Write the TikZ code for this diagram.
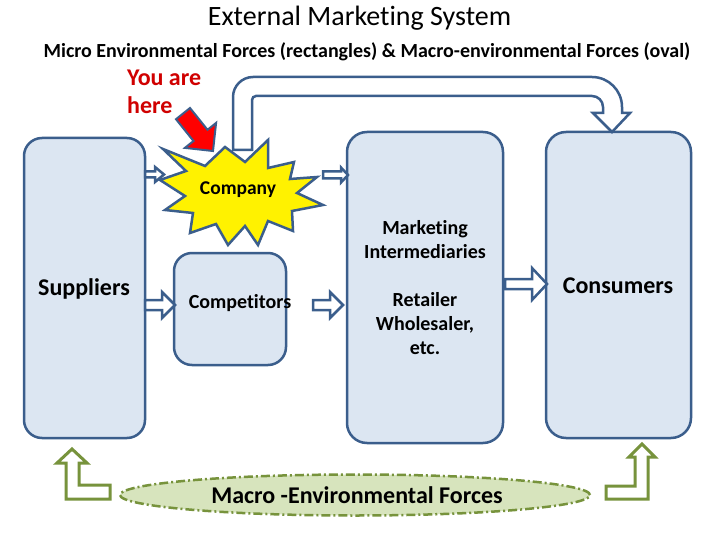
\documentclass[tikz,border=0pt]{standalone}
\usepackage{fontspec}
\setmainfont{Carlito}[Ligatures=NoCommon]
\usetikzlibrary{shapes.geometric}
\definecolor{boxfill}{HTML}{DCE6F2}
\definecolor{boxline}{HTML}{3B5E8C}
\definecolor{ovalfill}{HTML}{D7E4BD}
\definecolor{olive}{HTML}{77933C}
\definecolor{herered}{HTML}{D00000}
\tikzset{
  box/.style={draw=boxline, fill=boxfill, line width=2.5pt, rounded corners=18pt, inner sep=0pt},
  barrow/.style={draw=boxline, fill=white, line width=2.5pt, line join=miter},
  garrow/.style={draw=olive, fill=white, line width=3pt, line join=miter},
  lbl/.style={font=\bfseries\fontsize{20}{24}\selectfont, align=center, inner sep=0pt},
  biglbl/.style={font=\bfseries\fontsize{24}{28}\selectfont, align=center, inner sep=0pt},
}
\newcommand{\hblockarrow}[6]{%
  \draw[barrow] (#1,#2-#4) -- (#6,#2-#4) -- (#6,#2-#5) -- (#3,#2) -- (#6,#2+#5) -- (#6,#2+#4) -- (#1,#2+#4) -- cycle;}
\begin{document}
\begin{tikzpicture}[x=1pt,y=-1pt]
\useasboundingbox (0,0) rectangle (720,540);
\fill[white] (0,0) rectangle (720,540);

% titles
\node[font=\fontsize{28}{34}\selectfont, inner sep=0pt] (title) at (359.5,18) {External Marketing System};
\node[font=\bfseries\fontsize{20}{24}\selectfont, inner sep=0pt] (sub) at (367,52) {Micro Environmental Forces (rectangles) \& Macro-environmental Forces (oval)};
\node[font=\bfseries\fontsize{24}{28}\selectfont, text=herered, align=left, anchor=west, inner sep=0pt] (here) at (127,92) {You are\\here};

% boxes
\node[box, minimum width=121pt, minimum height=300pt] (sup) at (84.5,288) {};
\node[box, minimum width=112pt, minimum height=112pt] (comp) at (230,309) {};
\node[box, rounded corners=20pt, minimum width=156pt, minimum height=311pt] (mi) at (425,287.5) {};
\node[box, rounded corners=20pt, minimum width=145pt, minimum height=306pt] (cons) at (618.5,285) {};

\node[biglbl] (suptxt) at (84,289) {Suppliers};
\node[lbl] (comptxt) at (240,303) {Competitors};
\node[lbl] (mitxt) at (425,240) {Marketing\\Intermediaries};
\node[lbl] (retail) at (425,324) {Retailer\\Wholesaler,\\etc.};
\node[biglbl] (constxt) at (618,286) {Consumers};

% small block arrows
\hblockarrow{145}{174.5}{164}{3}{7.5}{155}
\hblockarrow{323}{175}{348}{3.5}{7.5}{341}
\hblockarrow{145}{305}{175}{5}{13}{162}
\hblockarrow{313}{305}{343}{5}{13}{330}
\hblockarrow{505}{284}{547}{5}{16}{532}

% bent arrow from company to consumers
\draw[barrow] (233,150) -- (233,97) .. controls (233,86) and (242,77) .. (253,77)
  -- (592,77) .. controls (608.6,77) and (622,90.4) .. (622,107)
  -- (622,113) -- (630,113) -- (612,132) -- (593,113) -- (603,113) -- (603,107)
  .. controls (603,100.9) and (598.1,96) .. (592,96)
  -- (256,96) .. controls (253.8,96) and (252,97.8) .. (252,100) -- (252,150) -- cycle;

% company starburst
\draw[draw=boxline, fill=yellow, line width=2.5pt, line join=miter]
  (163,149) -- (205,166) -- (225,147) -- (245,162) -- (268,140) -- (268,168)
  -- (294,162) -- (290,179) -- (317,177) -- (297,193) -- (323,205) -- (292,211)
  -- (293,231) -- (268,221) -- (258,245) -- (245,226) -- (228,245) -- (216,224)
  -- (190,233) -- (193,213) -- (165,210) -- (185,196) -- (160,180) -- (186,171) -- cycle;
\node[lbl, font=\bfseries\fontsize{19.5}{23}\selectfont] (company) at (238,190) {Company};

% red "you are here" arrow
\draw[draw=boxline, fill=red, line width=2pt, line join=miter]
  (213,151) -- (216.1,122.9) -- (207.5,129.8) -- (190.0,108.0) -- (176.0,119.2)
  -- (193.5,141.0) -- (184.9,147.9) -- cycle;

% macro-environmental oval
\node[ellipse, draw=olive, fill=ovalfill, line width=2.5pt,
      dash pattern=on 9pt off 3pt on 2pt off 3pt,
      minimum width=470pt, minimum height=41pt, inner sep=0pt] (macro) at (355,495) {};
\node[biglbl] (macrotxt) at (357,495) {Macro -Environmental Forces};

% green bent arrows
\draw[garrow] (72,449) -- (87,463) -- (79,463) -- (79,485) -- (110,485) -- (110,499)
  -- (66,499) -- (66,463) -- (57,463) -- cycle;
\draw[garrow] (642,444) -- (655,457) -- (648,457) -- (648,499) -- (606,499) -- (606,486)
  -- (635,486) -- (635,457) -- (629,457) -- cycle;
\end{tikzpicture}
\end{document}
